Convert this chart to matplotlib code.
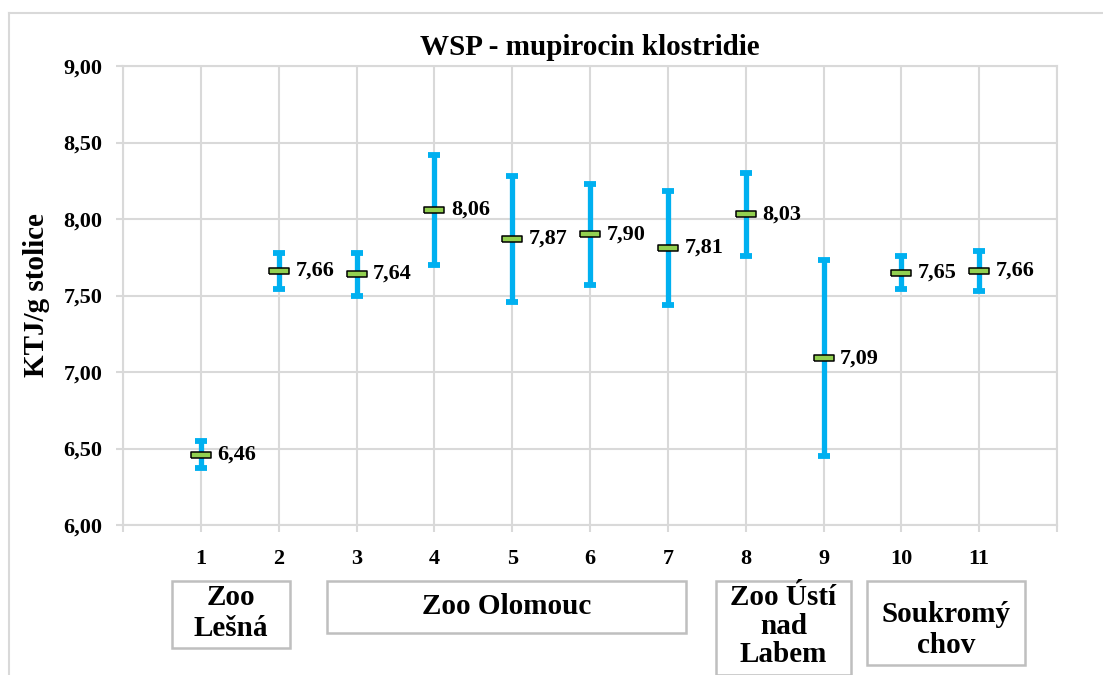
import matplotlib
matplotlib.use("Agg")
import matplotlib.pyplot as plt
from matplotlib.patches import Rectangle
from matplotlib.lines import Line2D

categories = [1, 2, 3, 4, 5, 6, 7, 8, 9, 10, 11]
means = [6.46, 7.66, 7.64, 8.06, 7.87, 7.90, 7.81, 8.03, 7.09, 7.65, 7.66]
errors = [0.09, 0.12, 0.14, 0.36, 0.41, 0.33, 0.37, 0.27, 0.64, 0.11, 0.13]
value_labels = ["6,46", "7,66", "7,64", "8,06", "7,87", "7,90", "7,81", "8,03", "7,09", "7,65", "7,66"]
yticks = [6.0, 6.5, 7.0, 7.5, 8.0, 8.5, 9.0]
ytick_labels = ["6,00", "6,50", "7,00", "7,50", "8,00", "8,50", "9,00"]
groups = ["Zoo\nLešná", "Zoo Olomouc", "Zoo Ústí\nnad\nLabem", "Soukromý\nchov"]

plt.rcParams['font.family'] = ['Liberation Serif', 'DejaVu Serif']
plt.rcParams['font.weight'] = 'bold'

W, H = 1103, 675
fig = plt.figure(figsize=(W / 100, H / 100), dpi=100)
ax = fig.add_axes([123 / W, 1 - 525 / H, (1057 - 123) / W, (525 - 66) / H])

grid_c = '#D9D9D9'
blue = '#00B0F0'
green = '#92D050'

ax.set_xlim(0, 12)
ax.set_ylim(6.0, 9.0)
ax.set_yticks(yticks)
ax.set_yticklabels(ytick_labels, fontsize=16, fontweight='bold')
ax.set_xticks(range(0, 13))
ax.set_xticklabels([""] + [str(c) for c in categories] + [""], fontsize=16, fontweight='bold')
ax.grid(True, color=grid_c, linewidth=1.5)
ax.set_axisbelow(True)
for s in ax.spines.values():
    s.set_color(grid_c)
    s.set_linewidth(1.5)
ax.tick_params(axis='both', color=grid_c, width=1.5, length=5)
ax.tick_params(axis='x', pad=12)
ax.tick_params(axis='y', pad=10)

ax.errorbar(categories, means, yerr=errors, fmt='none', ecolor=blue,
            elinewidth=3.8, capsize=4.2, capthick=4.2, zorder=3)
rect_marker = [(-2, -0.5), (2, -0.5), (2, 0.5), (-2, 0.5), (-2, -0.5)]
ax.plot(categories, means, linestyle='none', marker=rect_marker, markersize=15,
        markerfacecolor=green, markeredgecolor='black', markeredgewidth=1.1, zorder=4)

for x, y, t in zip(categories, means, value_labels):
    ax.annotate(t, (x, y), xytext=(12, 0), textcoords='offset points',
                ha='left', va='center', fontsize=16, fontweight='bold', zorder=5)

ax.set_title("WSP - mupirocin klostridie", fontsize=21, fontweight='bold', pad=8)
ax.set_ylabel("KTJ/g stolice", fontsize=21, fontweight='bold')
ax.yaxis.set_label_coords((50 - 123) / (1057 - 123), 0.5)

# outer chart border (left and top visible)
fig.add_artist(Line2D([9 / W, 9 / W], [0, 1 - 13 / H], transform=fig.transFigure,
                      color=grid_c, linewidth=1.5))
fig.add_artist(Line2D([9 / W, 1], [1 - 13 / H, 1 - 13 / H], transform=fig.transFigure,
                      color=grid_c, linewidth=1.5))

# group boxes (pixel coordinates)
boxes = [(172, 581, 290, 648), (327, 581, 686, 633), (716, 581, 851, 675), (867, 581, 1025, 665)]
centers = [613, 607, 626, 630]
spacings = [1.2, 1.0, 1.05, 1.2]
for (x0, y0, x1, y1), g, yc, ls in zip(boxes, groups, centers, spacings):
    fig.add_artist(Rectangle((x0 / W, 1 - y1 / H), (x1 - x0) / W, (y1 - y0) / H,
                             transform=fig.transFigure, facecolor='white',
                             edgecolor='#BFBFBF', linewidth=1.8))
    fig.text((x0 + x1) / 2 / W, 1 - yc / H, g, ha='center', va='center',
             fontsize=21, fontweight='bold', linespacing=ls)

fig.savefig("out.png", dpi=100)
